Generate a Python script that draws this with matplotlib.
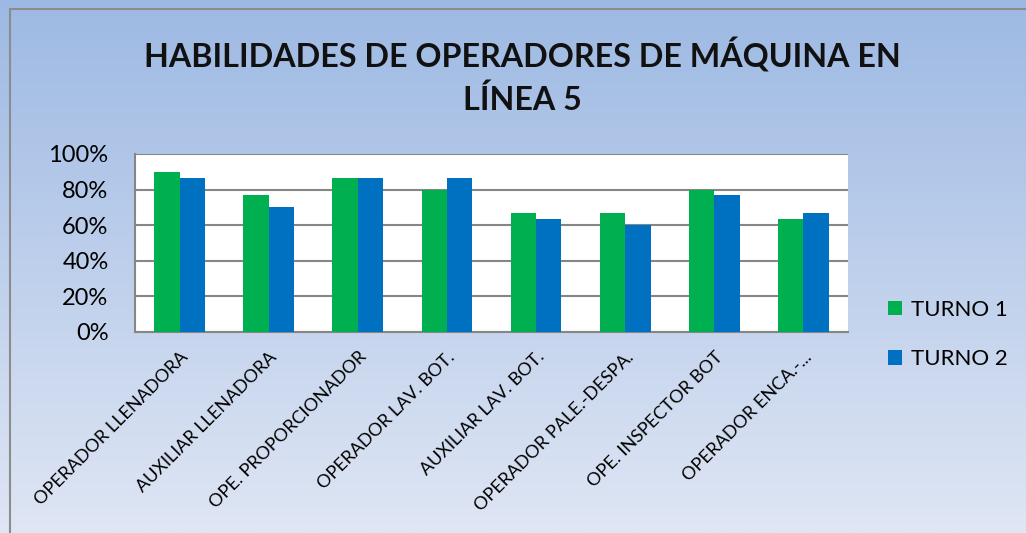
import numpy as np
import matplotlib
matplotlib.use('Agg')
import matplotlib.pyplot as plt
from matplotlib.patches import Rectangle
from matplotlib.ticker import FuncFormatter

plt.rcParams['font.family'] = ['Lato', 'DejaVu Sans']

# Data
puestos = ['OPERADOR LLENADORA', 'AUXILIAR LLENADORA', 'OPE. PROPORCIONADOR',
           'OPERADOR LAV. BOT.', 'AUXILIAR LAV. BOT.', 'OPERADOR PALE.-DESPA.',
           'OPE. INSPECTOR BOT', 'OPERADOR ENCA.-...']
turno1 = [0.90, 0.767, 0.867, 0.80, 0.667, 0.667, 0.80, 0.633]
turno2 = [0.867, 0.70, 0.867, 0.867, 0.633, 0.60, 0.767, 0.667]
series_names = ['TURNO 1', 'TURNO 2']
colors = ['#00B050', '#0070C0']

W, H = 1026, 533
fig = plt.figure(figsize=(W / 100, H / 100), dpi=100)

# Gradient background
bg = fig.add_axes([0, 0, 1, 1], zorder=-10)
grad = np.linspace(0, 1, 256).reshape(-1, 1)
top_c = np.array([0x9D, 0xB9, 0xE3]) / 255
bot_c = np.array([0xDF, 0xE6, 0xF4]) / 255
img = top_c[None, None, :] * (1 - grad[:, :, None]) + bot_c[None, None, :] * grad[:, :, None]
bg.imshow(img, aspect='auto', extent=[0, 1, 0, 1], origin='upper')
bg.set_xlim(0, 1)
bg.set_ylim(0, 1)
bg.axis('off')
bg.add_patch(Rectangle((9.5 / W, -0.1), 1.2, (H - 8.5) / H + 0.1,
                       facecolor='none', edgecolor='#8C8C8C', linewidth=1.5, zorder=5))

# Title
fig.text(522 / W, 1 - 55 / H, 'HABILIDADES DE OPERADORES DE MÁQUINA EN',
         ha='center', va='center', fontsize=23.2, fontweight='bold', color='#111111')
fig.text(522 / W, 1 - 100 / H, 'LÍNEA 5',
         ha='center', va='center', fontsize=23.2, fontweight='bold', color='#111111')

ax = fig.add_axes([135 / W, 1 - 332 / H, (848 - 135) / W, (332 - 154) / H])
ax.set_facecolor('white')

x = np.arange(len(puestos))
bw = 0.285
ax.bar(x - bw / 2, turno1, bw, color=colors[0], label=series_names[0], zorder=3)
ax.bar(x + bw / 2, turno2, bw, color=colors[1], label=series_names[1], zorder=3)

ax.set_xlim(-0.5, len(puestos) - 0.5)
ax.set_ylim(0, 1.0)
ax.set_yticks(np.arange(0, 1.01, 0.2))
ax.yaxis.set_major_formatter(FuncFormatter(lambda v, _: f'{v * 100:.0f}%'))
ax.grid(axis='y', color='#868686', linewidth=1.5, zorder=0)
for s in ['top', 'right']:
    ax.spines[s].set_visible(False)
for s in ['left', 'bottom']:
    ax.spines[s].set_color('#868686')
    ax.spines[s].set_linewidth(1.5)
ax.tick_params(axis='y', length=0, labelsize=17, pad=19)
ax.tick_params(axis='x', length=0, labelsize=13, pad=12)
ax.set_xticks(x)
ax.set_xticklabels(puestos, rotation=45, ha='right', rotation_mode='anchor')

leg = fig.legend(loc='upper left', bbox_to_anchor=(868 / W, 1 - 280 / H),
                 frameon=False, fontsize=16, handlelength=0.63, handleheight=0.63,
                 handletextpad=0.4, labelspacing=1.32)

fig.savefig('out.png', dpi=100)
